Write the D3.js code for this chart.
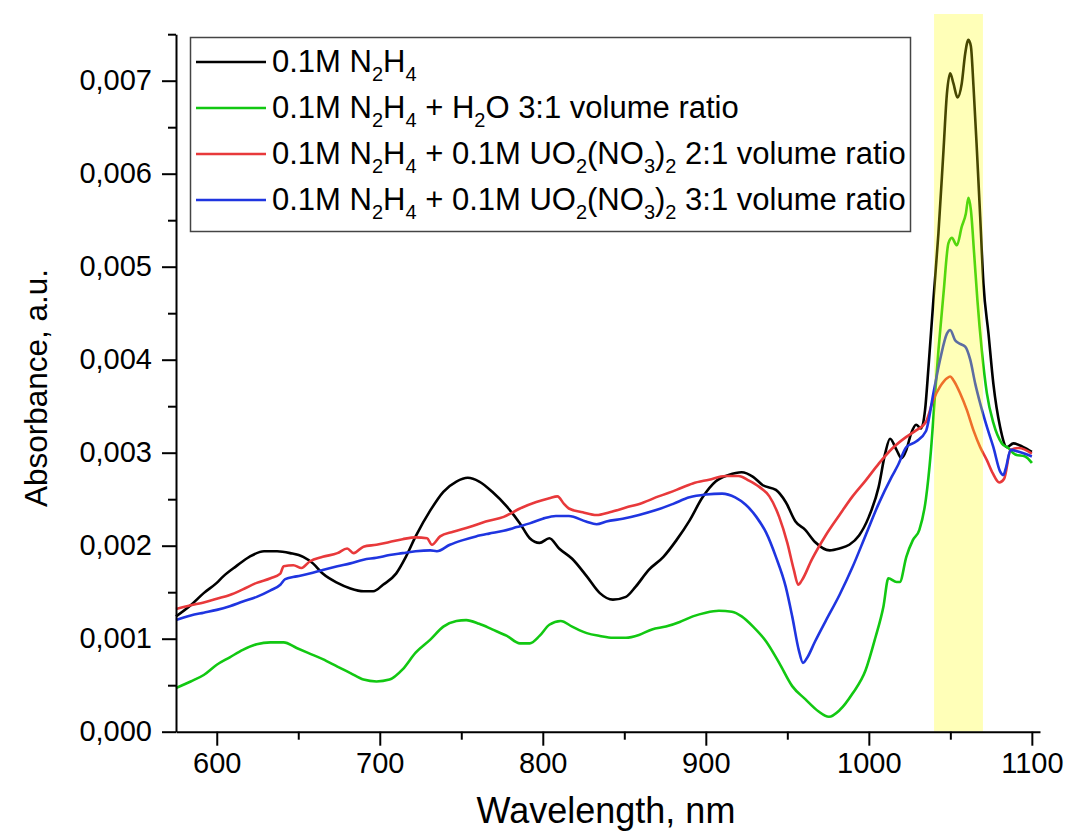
<!DOCTYPE html>
<html>
<head>
<meta charset="utf-8">
<script src="https://cdn.jsdelivr.net/npm/d3@7"></script>
<style>
  html, body { margin: 0; padding: 0; background: #fff; }
  svg { display: block; font-family: "Liberation Sans", Arial, sans-serif; }
</style>
</head>
<body>
<svg id="chart" width="1068" height="839"></svg>
<script>
// ---------------- DATA ----------------
// wavelengths (nm) and absorbance (units of 0.001 a.u.) per series
const blackX = [575,584,592,600,604,612,620,629,637,645,653,659,665,674,682,690,696,702,710,716,722,731,739,747,754,761,769,778,786,792,798,804,810,818,827,835,843,851,857,865,874,882,890,898,906,914,922,929,935,943,949,955,961,967,976,982,988,994,1000,1006,1010,1013,1017,1020,1023,1026,1029,1032,1034.5,1036.6,1039.6,1042.7,1045.8,1047.9,1049.9,1051.9,1054.4,1057,1059.1,1061.1,1062.6,1064.2,1066.3,1068.3,1070.3,1073.4,1076.4,1080.5,1084.7,1088.7,1094.8,1100];
const blackY = [1.24,1.36,1.49,1.60,1.67,1.78,1.88,1.94,1.94,1.92,1.88,1.81,1.70,1.60,1.54,1.51,1.51,1.58,1.70,1.88,2.10,2.38,2.58,2.69,2.73,2.69,2.58,2.42,2.24,2.08,2.03,2.08,1.97,1.86,1.67,1.49,1.42,1.45,1.56,1.74,1.88,2.06,2.27,2.52,2.69,2.76,2.79,2.74,2.65,2.60,2.47,2.26,2.17,2.04,1.95,1.97,2.01,2.11,2.31,2.63,2.99,3.15,3.03,2.94,3.03,3.21,3.30,3.26,3.46,3.92,4.64,5.36,6.25,6.86,7.08,6.97,6.82,6.97,7.29,7.44,7.37,6.94,6.25,5.54,4.82,4.28,3.74,3.28,3.06,3.10,3.06,3.01];

const greenX = [575,584,592,600,608,616,624.5,633,641,649,657,665,674,682,690,698,706,714,722,731,739,747,753,761,769,778,786,792,798,804,811,818,827,835,843,851,859,867,875.5,884,892,900,908,916,922,929,937,945,953,961,969,975.5,982,990,998,1004,1009,1012,1017,1019,1023,1027,1031,1035,1038,1040.5,1042.7,1045.8,1048.8,1050.9,1054,1057,1059.5,1061.1,1062.6,1064.6,1066.6,1069.3,1072.4,1076.4,1081.6,1085.6,1089.8,1095.9,1100];
const greenY = [0.47,0.54,0.61,0.72,0.80,0.88,0.94,0.96,0.96,0.90,0.84,0.78,0.70,0.63,0.56,0.54,0.56,0.67,0.85,0.99,1.13,1.19,1.20,1.16,1.10,1.03,0.95,0.95,1.03,1.15,1.19,1.13,1.06,1.03,1.01,1.01,1.04,1.10,1.13,1.18,1.24,1.28,1.30,1.29,1.24,1.13,0.97,0.74,0.49,0.35,0.22,0.16,0.23,0.41,0.66,1.01,1.35,1.65,1.61,1.61,1.88,2.06,2.17,2.50,3.00,3.60,4.10,4.71,5.25,5.31,5.23,5.43,5.57,5.74,5.61,5.14,4.64,4.10,3.64,3.32,3.10,3.05,2.98,2.96,2.89];

const redX = [575,584,592,600,608,616,624.5,633,639,641,647,652,657,665,674,680,684,690,698,706,714,722,729,732,737,745,755,765,776,786,796,804,809,813,816,824.5,833,841,851,861,871,882,892,902,912,920,926.5,933,939,945,950,954,956.7,959,965,973.5,982,990,998,1006,1014,1023,1029,1035,1039.6,1043.7,1047.9,1049.9,1051.9,1056,1060.1,1064.2,1068.3,1072.4,1076,1080,1083,1087,1092,1100];
const redY = [1.32,1.36,1.39,1.43,1.47,1.53,1.60,1.65,1.70,1.78,1.79,1.76,1.83,1.88,1.92,1.97,1.92,1.99,2.01,2.04,2.07,2.09,2.08,2.01,2.10,2.15,2.20,2.26,2.31,2.40,2.47,2.51,2.53,2.45,2.40,2.36,2.33,2.36,2.41,2.46,2.53,2.60,2.67,2.71,2.75,2.75,2.70,2.63,2.53,2.31,2.03,1.74,1.58,1.63,1.85,2.11,2.33,2.53,2.70,2.88,3.04,3.17,3.24,3.33,3.57,3.71,3.80,3.82,3.78,3.64,3.46,3.24,3.06,2.92,2.78,2.68,2.72,3.03,3.05,2.99];

const blueX = [575,584,592,600,608,616,624.5,633,639,642,649,657,665,674,682,690,698,706,714,722,731,735,743,751,759,767,776,784,792,800,808,816,826.5,833,839,849,859,869,880,890,900,910,918,924.5,931,937,943,949,953,957,959.6,962,967,973.5,982,990,998,1006,1014,1018,1023,1029,1035,1039.6,1043.7,1047.9,1049.9,1052.9,1056,1059.1,1062.2,1065.3,1068.3,1072.4,1076.4,1080.5,1082.5,1084,1087,1092,1100];
const blueY = [1.20,1.25,1.28,1.31,1.35,1.40,1.45,1.52,1.58,1.64,1.67,1.70,1.74,1.78,1.81,1.85,1.87,1.90,1.92,1.94,1.95,1.94,2.01,2.06,2.10,2.13,2.16,2.20,2.24,2.29,2.32,2.32,2.26,2.23,2.26,2.29,2.33,2.38,2.45,2.52,2.55,2.56,2.52,2.44,2.31,2.14,1.88,1.56,1.24,0.88,0.74,0.79,0.97,1.19,1.47,1.77,2.11,2.45,2.74,2.87,3.06,3.12,3.23,3.64,4.00,4.28,4.32,4.21,4.17,4.14,4.00,3.74,3.53,3.28,3.06,2.80,2.76,2.83,3.03,3.01,2.96];

const seriesNames = ["black", "green", "red", "blue"];
const seriesColors = ["#000000", "#12c812", "#e8393b", "#1f35e0"];
const legendLabels = [
  [["0.1M N"],["2","s"],["H"],["4","s"]],
  [["0.1M N"],["2","s"],["H"],["4","s"],[" + H"],["2","s"],["O 3:1 volume ratio"]],
  [["0.1M N"],["2","s"],["H"],["4","s"],[" + 0.1M UO"],["2","s"],["(NO"],["3","s"],[")"],["2","s"],[" 2:1 volume ratio"]],
  [["0.1M N"],["2","s"],["H"],["4","s"],[" + 0.1M UO"],["2","s"],["(NO"],["3","s"],[")"],["2","s"],[" 3:1 volume ratio"]]
];
const xMajorTicks = [600, 700, 800, 900, 1000, 1100];
const xMinorTicks = [650, 750, 850, 950, 1050];
const yMajorTicks = [0, 0.001, 0.002, 0.003, 0.004, 0.005, 0.006, 0.007];
const yMinorTicks = [0.0005, 0.0015, 0.0025, 0.0035, 0.0045, 0.0055, 0.0065, 0.0075];
const xDomain = [575, 1105];
const yDomain = [0, 0.0075];
const bandRange = [1040, 1070];
const xTitle = "Wavelength, nm";
const yTitle = "Absorbance, a.u.";

// ---------------- CHART ----------------
const svg = d3.select("#chart");
const x = d3.scaleLinear().domain(xDomain).range([176, 1040]);
const y = d3.scaleLinear().domain(yDomain).range([731.7, 34.2]);

const seriesData = [
  d3.zip(blackX, blackY),
  d3.zip(greenX, greenY),
  d3.zip(redX, redY),
  d3.zip(blueX, blueY)
];

const line = d3.line()
  .x(d => x(d[0]))
  .y(d => y(d[1] / 1000))
  .curve(d3.curveMonotoneX);

const curves = svg.append("g");
seriesData.forEach((pts, i) => {
  curves.append("path")
    .datum(pts)
    .attr("d", line)
    .attr("fill", "none")
    .attr("stroke", seriesColors[i])
    .attr("stroke-width", 2.6)
    .attr("stroke-linejoin", "round");
});

// highlight band (semi-transparent, over curves)
svg.append("rect")
  .attr("x", x(bandRange[0]))
  .attr("width", x(bandRange[1]) - x(bandRange[0]))
  .attr("y", 14)
  .attr("height", y(0) - 14)
  .attr("fill", "#ffff00")
  .attr("fill-opacity", 0.28);

const fmt = v => d3.format(".3f")(v).replace(".", ",");

// x axis
const gx = svg.append("g").attr("transform", `translate(0,${y(0)})`);
gx.call(d3.axisBottom(x).tickValues(xMajorTicks).tickSize(14).tickPadding(7).tickSizeOuter(0).tickFormat(d3.format("d")));
const gxm = svg.append("g").attr("transform", `translate(0,${y(0)})`);
gxm.call(d3.axisBottom(x).tickValues(xMinorTicks).tickSize(8).tickFormat(""));
gxm.select(".domain").remove();

// y axis
const gy = svg.append("g").attr("transform", `translate(${x(xDomain[0])},0)`);
gy.call(d3.axisLeft(y).tickValues(yMajorTicks).tickSize(14).tickPadding(10).tickSizeOuter(0).tickFormat(fmt));
const gym = svg.append("g").attr("transform", `translate(${x(xDomain[0])},0)`);
gym.call(d3.axisLeft(y).tickValues(yMinorTicks).tickSize(8).tickFormat(""));
gym.select(".domain").remove();

svg.selectAll(".domain").attr("stroke", "#000").attr("stroke-width", 2);
svg.selectAll(".tick line").attr("stroke", "#000").attr("stroke-width", 2);
svg.selectAll(".tick text")
  .attr("font-family", "'Liberation Sans', Arial, sans-serif")
  .attr("font-size", 29)
  .attr("fill", "#000");

// axis titles
svg.append("text")
  .attr("x", 606).attr("y", 823)
  .attr("text-anchor", "middle")
  .attr("font-size", 36)
  .text(xTitle);
svg.append("text")
  .attr("transform", "translate(47,388) rotate(-90)")
  .attr("text-anchor", "middle")
  .attr("font-size", 31.5)
  .text(yTitle);

// legend
const lg = svg.append("g");
lg.append("rect")
  .attr("x", 190.5).attr("y", 37.5)
  .attr("width", 720).attr("height", 194)
  .attr("fill", "#fff")
  .attr("stroke", "#444")
  .attr("stroke-width", 1.5);
legendLabels.forEach((segs, i) => {
  const cy = 62 + i * 46;
  lg.append("line")
    .attr("x1", 196).attr("x2", 266)
    .attr("y1", cy).attr("y2", cy)
    .attr("stroke", seriesColors[i])
    .attr("stroke-width", 2.6);
  const t = lg.append("text")
    .attr("x", 272).attr("y", cy + 10)
    .attr("font-size", 31)
    .attr("fill", "#000");
  let shifted = false;
  segs.forEach(s => {
    const sp = t.append("tspan").text(s[0]);
    if (s[1] === "s") {
      sp.attr("font-size", 20).attr("dy", shifted ? 0 : 9);
      shifted = true;
    } else {
      if (shifted) sp.attr("dy", -9);
      shifted = false;
    }
  });
});
</script>
</body>
</html>
